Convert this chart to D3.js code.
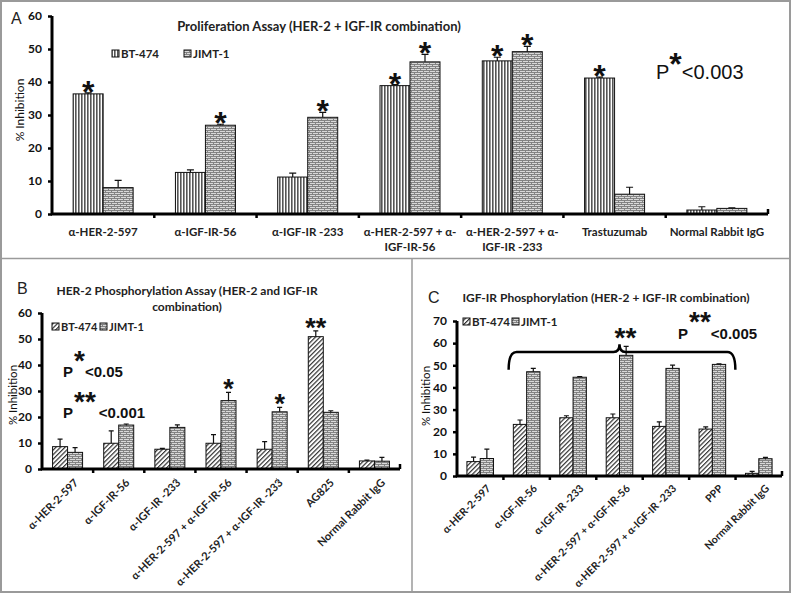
<!DOCTYPE html>
<html><head><meta charset="utf-8">
<script src="https://cdn.jsdelivr.net/npm/d3@7"></script>
<style>body{margin:0;background:#fff}svg{display:block}</style>
</head><body><svg id="c" width="791" height="593"></svg>
<script>
// ---------- DATA ----------
const categoriesA = ["α-HER-2-597","α-IGF-IR-56","α-IGF-IR -233","α-HER-2-597 + α-IGF-IR-56","α-HER-2-597 + α-IGF-IR -233","Trastuzumab","Normal Rabbit IgG"];
const tickLinesA = [["α-HER-2-597"],["α-IGF-IR-56"],["α-IGF-IR -233"],["α-HER-2-597 + α-","IGF-IR-56"],["α-HER-2-597 + α-","IGF-IR -233"],["Trastuzumab"],["Normal Rabbit IgG"]];
const bt474A    = [36.4, 12.6, 11.2, 38.9, 46.4, 41.2, 1.2];
const bt474ErrA = [0.3, 0.8, 1.2, 0.3, 1.1, 0.3, 1.0];
const jimt1A    = [8.0, 26.9, 29.3, 46.1, 49.2, 6.0, 1.7];
const jimt1ErrA = [2.2, 0.3, 1.5, 2.3, 1.6, 2.1, 0.2];
const starsA    = [["*",""],["","*"],["","*"],["*","*"],["*","*"],["*",""],["",""]];

const categoriesB = ["α-HER-2-597","α-IGF-IR-56","α-IGF-IR -233","α-HER-2-597 + α-IGF-IR-56","α-HER-2-597 + α-IGF-IR -233","AG825","Normal Rabbit IgG"];
const bt474B    = [8.6, 9.9, 7.6, 9.9, 7.6, 50.9, 3.1];
const bt474ErrB = [2.9, 4.8, 0.3, 3.3, 2.9, 2.2, 0.3];
const jimt1B    = [6.4, 16.9, 16.0, 26.3, 22.0, 21.8, 3.0];
const jimt1ErrB = [1.8, 0.4, 1.0, 3.2, 1.7, 0.6, 1.5];
const starsB    = [["",""],["",""],["",""],["","*"],["","*"],["**",""],["",""]];

const categoriesC = ["α-HER-2-597","α-IGF-IR-56","α-IGF-IR -233","α-HER-2-597 + α-IGF-IR-56","α-HER-2-597 + α-IGF-IR -233","PPP","Normal Rabbit IgG"];
const bt474C    = [6.5, 23.3, 26.3, 26.3, 22.4, 21.2, 1.2];
const bt474ErrC = [2.0, 2.0, 0.9, 1.7, 2.0, 1.0, 0.9];
const jimt1C    = [7.9, 47.1, 44.6, 54.5, 48.6, 50.4, 7.8];
const jimt1ErrC = [4.2, 1.5, 0.3, 4.0, 1.5, 0.3, 0.6];

const seriesNames = ["BT-474","JIMT-1"];
const ticksA = [0,10,20,30,40,50,60];
const ticksB = [0,10,20,30,40,50,60];
const ticksC = [0,10,20,30,40,50,60,70];

// ---------- DRAW ----------
const svg = d3.select("#c");
const defs = svg.append("defs");
const CAL = "Lato, 'Open Sans', sans-serif";
const ARI = "'Liberation Sans', Arial, sans-serif";

const pv = defs.append("pattern").attr("id","vstripe").attr("patternUnits","userSpaceOnUse").attr("width",3).attr("height",4);
pv.append("rect").attr("width",3).attr("height",4).attr("fill","#fff");
pv.append("rect").attr("x",0).attr("width",1.6).attr("height",4).attr("fill","#555");

const pb = defs.append("pattern").attr("id","brick").attr("patternUnits","userSpaceOnUse").attr("width",6).attr("height",4);
pb.append("rect").attr("width",6).attr("height",4).attr("fill","#d9d9d9");
pb.append("path").attr("d","M0,0.5H6M0,2.5H6M0.5,0.5V2.5M3.5,2.5V4.5").attr("stroke","#7a7a7a").attr("stroke-width",0.9).attr("fill","none");

const pd = defs.append("pattern").attr("id","diag").attr("patternUnits","userSpaceOnUse").attr("width",3.2).attr("height",6).attr("patternTransform","rotate(45)");
pd.append("rect").attr("width",3.2).attr("height",6).attr("fill","#fff");
pd.append("rect").attr("width",1.2).attr("height",6).attr("fill","#333");

svg.append("rect").attr("x",1).attr("y",1).attr("width",789).attr("height",591).attr("fill","#fff").attr("stroke","#9a9a9a").attr("stroke-width",2);
svg.append("line").attr("x1",1).attr("x2",790).attr("y1",258.5).attr("y2",258.5).attr("stroke","#9a9a9a").attr("stroke-width",1.5);
svg.append("line").attr("x1",412).attr("x2",412).attr("y1",258).attr("y2",592).attr("stroke","#9a9a9a").attr("stroke-width",1.5);

function panel(o){
  const g = svg.append("g");
  const y = d3.scaleLinear().domain([0,o.yMax]).range([o.y0,o.yTop]);
  const x = d3.scaleBand().domain(o.cats).range([o.xL,o.xR]);
  const step = x.step();
  const cx = c => x(c) + step/2;
  const fills = o.fills;
  const sets = [[o.s1,o.e1],[o.s2,o.e2]];
  sets.forEach(([vals,errs],si)=>{
    const bx = c => si===0 ? cx(c)-o.bw : cx(c);
    g.selectAll(null).data(o.cats).enter().append("rect")
      .attr("x",c=>bx(c)).attr("width",o.bw)
      .attr("y",(c,i)=>y(vals[i])).attr("height",(c,i)=>y(0)-y(vals[i]))
      .attr("fill",`url(#${fills[si]})`).attr("stroke","#111").attr("stroke-width",1);
    g.selectAll(null).data(o.cats).enter().append("path")
      .attr("d",(c,i)=>{const xm=bx(c)+o.bw/2, y1=y(vals[i]), y2=y(vals[i]+errs[i]);
        return `M${xm},${y1}V${y2}M${xm-o.cap},${y2}H${xm+o.cap}`;})
      .attr("stroke","#111").attr("stroke-width",1.2).attr("fill","none");
    if(o.stars){
      g.selectAll(null).data(o.cats).enter().append("text")
        .attr("x",c=>bx(c)+o.bw/2).attr("y",(c,i)=>y(vals[i]+errs[i])+o.starDy)
        .attr("text-anchor","middle").attr("font-family",ARI).attr("font-weight","bold")
        .attr("font-size",o.starSize).attr("fill","#111")
        .text((c,i)=>o.stars[i][si]);
    }
  });
  const ya = g.append("g").attr("transform",`translate(${o.xL},0)`)
    .call(d3.axisLeft(y).tickValues(o.ticks).tickSize(4).tickSizeOuter(0).tickPadding(6));
  ya.select(".domain").attr("stroke","#000").attr("stroke-width",3).attr("d",`M0,${o.y0+1}V${o.yTop}`);
  ya.selectAll(".tick line").attr("stroke","#000").attr("stroke-width",2.5);
  ya.selectAll(".tick text").attr("font-family",CAL).attr("font-weight","bold").attr("font-size",o.tickFont).attr("fill","#111");
  g.append("line").attr("x1",o.xL-1).attr("x2",o.xR).attr("y1",o.y0).attr("y2",o.y0).attr("stroke","#000").attr("stroke-width",3);
  g.selectAll(null).data(d3.range(1,o.cats.length+1)).enter().append("line")
    .attr("x1",i=>o.xL+i*step).attr("x2",i=>o.xL+i*step)
    .attr("y1",o.y0).attr("y2",(i)=> i===o.cats.length ? o.y0-5 : o.y0+4)
    .attr("stroke","#000").attr("stroke-width",2.5);
  g.append("text").attr("transform",`translate(${o.ylabX},${o.ylabY}) rotate(-90)`)
    .attr("text-anchor","middle").attr("font-family",CAL).attr("font-size",o.ylabSize).attr("fill","#111").text("% Inhibition");
  return {g,x,y,cx,step};
}

// ---- Panel A ----
const A = panel({cats:categoriesA,yMax:60,y0:214,yTop:16,xL:52,xR:768,bw:30,cap:3.5,
  s1:bt474A,e1:bt474ErrA,s2:jimt1A,e2:jimt1ErrA,fills:["vstripe","brick"],
  stars:starsA,starSize:32,starDy:10,ticks:ticksA,tickFont:12,ylabX:24,ylabY:110,ylabSize:12});
A.g.selectAll(null).data(categoriesA).enter().append("text")
  .attr("x",c=>A.cx(c)).attr("y",236).attr("text-anchor","middle")
  .attr("font-family",CAL).attr("font-weight","bold").attr("font-size",11.5).attr("fill","#222")
  .each(function(c,i){const t=d3.select(this);
    tickLinesA[i].forEach((ln,k)=>t.append("tspan").attr("x",A.cx(c)).attr("dy",k?15:0).text(ln));});
svg.append("text").attr("x",319).attr("y",31).attr("text-anchor","middle").attr("font-family",CAL)
  .attr("font-weight","bold").attr("font-size",13).attr("fill","#222").text("Proliferation Assay (HER-2 + IGF-IR combination)");
svg.append("text").attr("x",11).attr("y",24).attr("font-family",ARI).attr("font-size",16).attr("fill","#222").text("A");

function legend(x0,x1,yb,fills,size){
  seriesNames.forEach((n,i)=>{
    const xx=[x0,x1][i];
    svg.append("rect").attr("x",xx).attr("y",yb-8).attr("width",7).attr("height",7)
      .attr("fill",`url(#${fills[i]})`).attr("stroke","#111").attr("stroke-width",1);
    svg.append("text").attr("x",xx+9).attr("y",yb).attr("font-family",CAL).attr("font-weight","bold")
      .attr("font-size",size).attr("fill","#222").text(n);
  });
}
legend(112,184,58,["vstripe","brick"],11.5);

const pA = svg.append("text").attr("x",656).attr("y",79).attr("font-family",ARI).attr("font-size",20).attr("fill","#111");
pA.append("tspan").text("P");
pA.append("tspan").attr("font-size",32).attr("font-weight","bold").attr("dy",-4).text("*");
pA.append("tspan").attr("dy",4).text("<0.003");

// ---- Panel B ----
const B = panel({cats:categoriesB,yMax:60,y0:469,yTop:313,xL:42,xR:400,bw:15,cap:2.5,
  s1:bt474B,e1:bt474ErrB,s2:jimt1B,e2:jimt1ErrB,fills:["diag","brick"],
  stars:starsB,starSize:27,starDy:6,ticks:ticksB,tickFont:12,ylabX:17,ylabY:395,ylabSize:11.5});
B.g.selectAll(null).data(categoriesB).enter().append("text")
  .attr("transform",c=>`translate(${B.cx(c)+6},${478}) rotate(-45)`).attr("text-anchor","end")
  .attr("dy","0.7em").attr("font-family",CAL).attr("font-weight","bold").attr("font-size",11).attr("fill","#222").text(c=>c);
svg.append("text").attr("x",187).attr("y",295).attr("text-anchor","middle").attr("font-family",CAL)
  .attr("font-weight","bold").attr("font-size",12).attr("fill","#222").text("HER-2 Phosphorylation  Assay (HER-2 and IGF-IR");
svg.append("text").attr("x",187).attr("y",311).attr("text-anchor","middle").attr("font-family",CAL)
  .attr("font-weight","bold").attr("font-size",12).attr("fill","#222").text("combination)");
svg.append("text").attr("x",17).attr("y",294).attr("font-family",ARI).attr("font-size",16).attr("fill","#222").text("B");
legend(52,100,331,["diag","brick"],11);
[2,4].forEach(i=>{const xm=B.cx(categoriesB[i])+4;
  svg.append("line").attr("x1",xm).attr("x2",xm+2).attr("y1",478).attr("y2",482).attr("stroke","#888").attr("stroke-width",1);});
const pB1 = svg.append("text").attr("x",63).attr("y",377).attr("font-family",ARI).attr("font-weight","bold").attr("font-size",15).attr("fill","#111");
pB1.append("tspan").text("P");
pB1.append("tspan").attr("font-size",28).attr("dx",1).attr("dy",-7).text("*");
pB1.append("tspan").attr("dy",7).text("<0.05");
const pB2 = svg.append("text").attr("x",63).attr("y",418).attr("font-family",ARI).attr("font-weight","bold").attr("font-size",15).attr("fill","#111");
pB2.append("tspan").text("P");
pB2.append("tspan").attr("font-size",28).attr("dx",1).attr("dy",-7).text("**");
pB2.append("tspan").attr("dx",3).attr("dy",7).text("<0.001");

// ---- Panel C ----
const C = panel({cats:categoriesC,yMax:70,y0:476,yTop:321,xL:457,xR:782,bw:13.3,cap:2.5,
  s1:bt474C,e1:bt474ErrC,s2:jimt1C,e2:jimt1ErrC,fills:["diag","brick"],
  stars:null,ticks:ticksC,tickFont:12,ylabX:430,ylabY:396,ylabSize:11.5});
C.g.selectAll(null).data(categoriesC).enter().append("text")
  .attr("transform",c=>`translate(${C.cx(c)+6},${484}) rotate(-45)`).attr("text-anchor","end")
  .attr("dy","0.7em").attr("font-family",CAL).attr("font-weight","bold").attr("font-size",10.5).attr("fill","#222").text(c=>c);
svg.append("text").attr("x",606).attr("y",302).attr("text-anchor","middle").attr("font-family",CAL)
  .attr("font-weight","bold").attr("font-size",12).attr("fill","#222").text("IGF-IR Phosphorylation  (HER-2 + IGF-IR combination)");
svg.append("text").attr("x",428).attr("y",303).attr("font-family",ARI).attr("font-size",16).attr("fill","#222").text("C");
legend(463,512,326,["diag","brick"],11.5);
{
  const xl = C.cx(categoriesC[1]) - 18, xr = C.cx(categoriesC[5]) + 23, xp = C.cx(categoriesC[3]);
  const yl = C.y(48), ym = C.y(56), yp = C.y(59.5);
  svg.append("path").attr("d",`M${xl},${yl}Q${xl},${ym} ${xl+8},${ym}L${xp-6},${ym}Q${xp},${ym} ${xp},${yp}Q${xp},${ym} ${xp+6},${ym}L${xr-8},${ym}Q${xr},${ym} ${xr},${yl}`)
    .attr("fill","none").attr("stroke","#000").attr("stroke-width",2.5);
  svg.append("text").attr("x",xp+6).attr("y",yp+3).attr("text-anchor","middle").attr("font-family",ARI)
    .attr("font-weight","bold").attr("font-size",28).attr("fill","#111").text("**");
}
const pC = svg.append("text").attr("x",678).attr("y",339).attr("font-family",ARI).attr("font-weight","bold").attr("font-size",15).attr("fill","#111");
pC.append("tspan").text("P");
pC.append("tspan").attr("font-size",28).attr("dx",1).attr("dy",-8).text("**");
pC.append("tspan").attr("dy",8).text("<0.005");
</script></body></html>
